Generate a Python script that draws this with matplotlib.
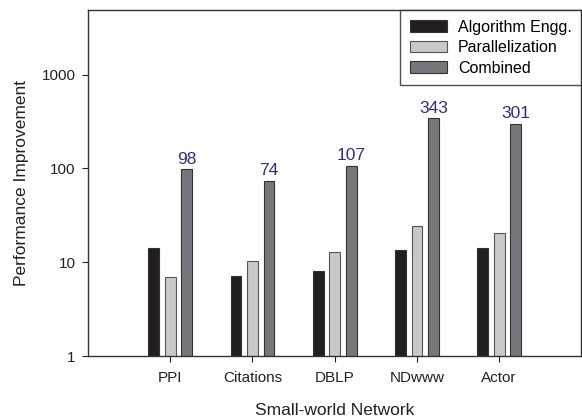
import matplotlib
matplotlib.use("Agg")
import matplotlib.pyplot as plt
import numpy as np

networks = ["PPI", "Citations", "DBLP", "NDwww", "Actor"]
algo = [14.2, 7.1, 8.1, 13.6, 14.2]
parallel = [7.0, 10.2, 12.9, 24.5, 20.6]
combined = [98, 74, 107, 343, 301]
combined_labels = ["98", "74", "107", "343", "301"]

plt.rcParams['font.family'] = ['Liberation Sans', 'DejaVu Sans']

fig = plt.figure(figsize=(5.82, 4.19), dpi=100)
ax = fig.add_axes([88/582, 63/419, 1 - 88/582 - 0.001, (356-10)/419])

x = np.arange(1, len(networks) + 1)
w = 0.13
off = 0.2
ax.bar(x - off, algo, w, color="#231f20", edgecolor="#333333", linewidth=0.8, label="Algorithm Engg.")
ax.bar(x, parallel, w, color="#c8c9cb", edgecolor="#555555", linewidth=0.8, label="Parallelization")
ax.bar(x + off, combined, w, color="#76777b", edgecolor="#333333", linewidth=0.8, label="Combined")

for xi, v, lab in zip(x, combined, combined_labels):
    ax.text(xi + off, v * 1.07, lab, ha="center", va="bottom", color="#2e2e8a", fontsize=12.5)

ax.set_yscale("log")
ax.set_ylim(1, 4900)
ax.set_xlim(0, 6)
ax.set_yticks([1, 10, 100, 1000])
ax.set_yticklabels(["1", "10", "100", "1000"])
ax.minorticks_off()
ax.set_xticks(x)
ax.set_xticklabels(networks)
ax.tick_params(axis="both", direction="out", labelsize=11, colors="#222222", length=4)
ax.tick_params(axis="x", pad=7)
ax.tick_params(axis="y", pad=5)
for s in ax.spines.values():
    s.set_color("#333333")
    s.set_linewidth(1.0)

ax.set_ylabel("Performance Improvement", fontsize=12.5, color="#222222", labelpad=9)
ax.set_xlabel("Small-world Network", fontsize=12.5, color="#222222", labelpad=13)

leg = ax.legend(loc="upper right", frameon=True, fancybox=False, fontsize=11.5,
                handlelength=2.3, handleheight=0.75, handletextpad=0.7,
                borderpad=0.6, labelspacing=0.35, borderaxespad=0)
leg.get_frame().set_edgecolor("#222222")
leg.get_frame().set_linewidth(1.0)

fig.savefig("out.png", dpi=100)
